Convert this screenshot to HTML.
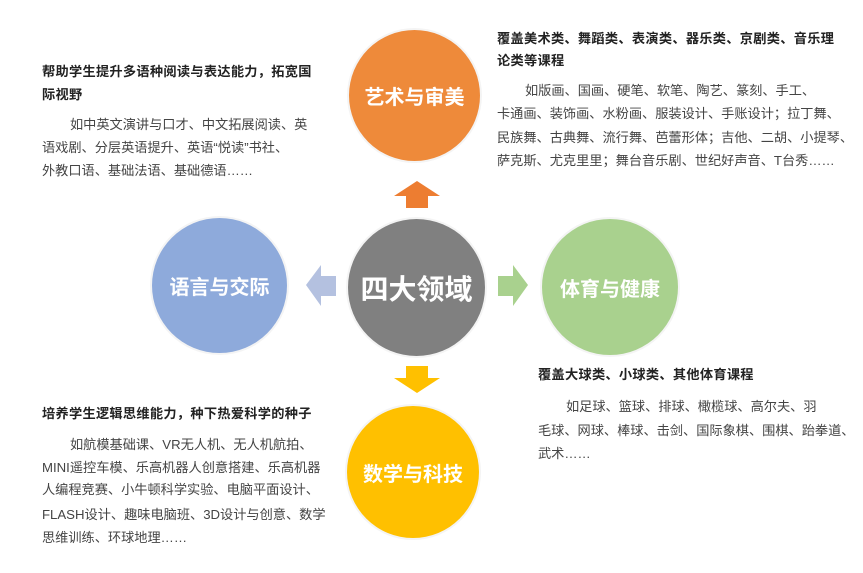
<!DOCTYPE html>
<html><head><meta charset="utf-8"><style>
body{margin:0;width:863px;height:573px;background:#fff;position:relative;overflow:hidden;font-family:"Liberation Sans","Noto Sans CJK SC",sans-serif}
.c{position:absolute;border-radius:50%;color:#fff;font-size:20px;font-weight:bold;display:flex;align-items:center;justify-content:center;box-shadow:0 0 0 2px #f4f4f4}
.l{position:absolute;font-size:13.2px;line-height:18px;color:#444;white-space:nowrap;letter-spacing:0}
.b{font-weight:bold;color:#222;letter-spacing:.3px}
</style></head><body>
<div class="c" style="left:349px;top:30px;width:131px;height:131px;background:#ee8a3a">艺术与审美</div>
<div class="c" style="left:152px;top:218px;width:135px;height:135px;background:#8eaadb">语言与交际</div>
<div class="c" style="left:542px;top:219px;width:136px;height:136px;background:#a9d18e">体育与健康</div>
<div class="c" style="left:347px;top:406px;width:132px;height:132px;background:#ffc000">数学与科技</div>
<div class="c" style="left:348px;top:219px;width:137px;height:137px;background:#808080;font-size:28px">四大领域</div>
<svg style="position:absolute;left:0;top:0" width="863" height="573">
<polygon points="417,181 440,196 428,196 428,208 406,208 406,196 394,196" fill="#ed7d31"/>
<polygon points="306,285 321,265 321,276 336,276 336,296 321,296 321,306" fill="#b4c1e0"/>
<polygon points="528,285 513,265 513,276 498,276 498,296 513,296 513,306" fill="#a9d18e"/>
<polygon points="417,393 440,378 428,378 428,366 406,366 406,378 394,378" fill="#ffc000"/>
</svg>
<div class="l b" style="left:42px;top:63px">帮助学生提升多语种阅读与表达能力，拓宽国</div>
<div class="l b" style="left:42px;top:86px">际视野</div>
<div class="l" style="left:70px;top:116px">如中英文演讲与口才、中文拓展阅读、英</div>
<div class="l" style="left:42px;top:139px">语戏剧、分层英语提升、英语“悦读”书社、</div>
<div class="l" style="left:42px;top:162px">外教口语、基础法语、基础德语……</div>

<div class="l b" style="left:497px;top:30px">覆盖美术类、舞蹈类、表演类、器乐类、京剧类、音乐理</div>
<div class="l b" style="left:497px;top:52px">论类等课程</div>
<div class="l" style="left:525px;top:82px">如版画、国画、硬笔、软笔、陶艺、篆刻、手工、</div>
<div class="l" style="left:497px;top:105px">卡通画、装饰画、水粉画、服装设计、手账设计；拉丁舞、</div>
<div class="l" style="left:497px;top:129px">民族舞、古典舞、流行舞、芭蕾形体；吉他、二胡、小提琴、</div>
<div class="l" style="left:497px;top:152px">萨克斯、尤克里里；舞台音乐剧、世纪好声音、T台秀……</div>

<div class="l b" style="left:42px;top:405px">培养学生逻辑思维能力，种下热爱科学的种子</div>
<div class="l" style="left:70px;top:436px">如航模基础课、VR无人机、无人机航拍、</div>
<div class="l" style="left:42px;top:459px">MINI遥控车模、乐高机器人创意搭建、乐高机器</div>
<div class="l" style="left:42px;top:481px">人编程竞赛、小牛顿科学实验、电脑平面设计、</div>
<div class="l" style="left:42px;top:506px">FLASH设计、趣味电脑班、3D设计与创意、数学</div>
<div class="l" style="left:42px;top:529px">思维训练、环球地理……</div>

<div class="l b" style="left:538px;top:366px">覆盖大球类、小球类、其他体育课程</div>
<div class="l" style="left:566px;top:398px">如足球、篮球、排球、橄榄球、高尔夫、羽</div>
<div class="l" style="left:538px;top:422px">毛球、网球、棒球、击剑、国际象棋、围棋、跆拳道、</div>
<div class="l" style="left:538px;top:445px">武术……</div>
</body></html>
